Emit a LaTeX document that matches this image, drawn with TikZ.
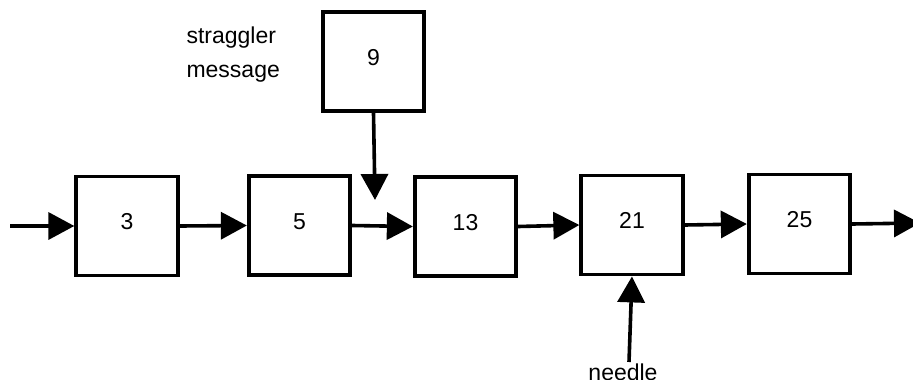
\documentclass[tikz,border=0pt]{standalone}
\usepackage{fontspec}
\setmainfont{Liberation Sans}
\usetikzlibrary{arrows.meta}
\begin{document}
\begin{tikzpicture}[x=1pt,y=-1pt,
  box/.style={draw,line width=3.8pt,minimum width=101.5pt,minimum height=99pt,inner sep=0pt,
    font=\fontsize{23}{28}\selectfont,text height=16.5pt,text depth=9pt},
  conn/.style={line width=3.6pt,-{Triangle[length=26pt,width=27pt]}},
  lbl/.style={font=\fontsize{23}{34}\selectfont}]
\useasboundingbox (0,0) rectangle (913,380);
\node[box] (b3)  at (127,226)   {3};
\node[box] (b5)  at (299.5,225.5) {5};
\node[box] (b13) at (465.5,226.5) {13};
\node[box] (b21) at (632,225)   {21};
\node[box] (b25) at (799.5,224) {25};
\node[box] (b9)  at (373.5,61.5) {9};
\coordinate (in) at (10,226);
\coordinate (out) at (920,223);
\coordinate (strag) at (375,200);
\coordinate (ndl) at (629,362);
\node[lbl,anchor=west,align=left] (sm) at (183,55) {straggler\\message};
\node[lbl,anchor=base] (nd) at (623,380.5) {needle};
\draw[conn] (in) -- (b3.west);
\draw[conn] (b3.east) -- (b5.west);
\draw[conn] (b5.east) -- (b13.west);
\draw[conn] (b13.east) -- (b21.west);
\draw[conn] (b21.east) -- (b25.west);
\draw[conn] (b25.east) -- (out);
\draw[conn] (b9.south) -- (strag);
\draw[conn] (ndl) -- (b21.south);
\end{tikzpicture}
\end{document}
